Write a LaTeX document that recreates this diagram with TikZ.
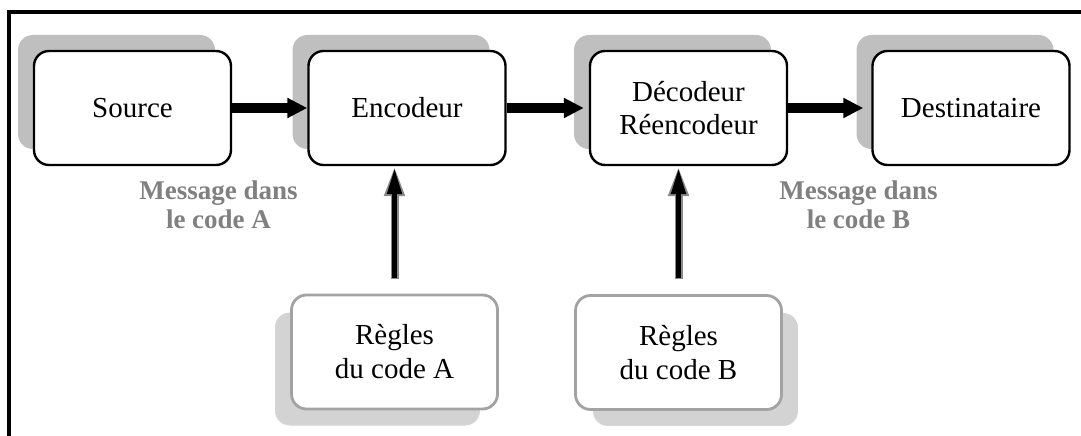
\documentclass[tikz,border=0pt]{standalone}
\usepackage{fontspec}
\setmainfont{Liberation Serif}
\usetikzlibrary{arrows.meta,shadows,calc}

\definecolor{shadowtop}{HTML}{BFBFBF}
\definecolor{shadowlow}{HTML}{D3D3D3}
\definecolor{ruleborder}{HTML}{A3A3A3}
\definecolor{labelgray}{HTML}{808080}
\definecolor{arrowedge}{HTML}{8A8A8A}

\tikzset{
  stagebox/.style={draw=black, line width=2.4pt, fill=white, rounded corners=15pt,
    minimum width=197pt, minimum height=114pt, inner sep=0pt, align=center,
    font=\fontsize{29}{33}\selectfont,
    general shadow={fill=shadowtop, draw=none, shadow xshift=-16pt, shadow yshift=16pt}},
  rulebox/.style={draw=ruleborder, line width=2.8pt, fill=white, rounded corners=15pt,
    minimum width=206pt, minimum height=114pt, inner sep=0pt, align=center,
    font=\fontsize{29}{34}\selectfont},
  shadowleft/.style={general shadow={fill=shadowlow, draw=white, line width=1pt,
    shadow xshift=-17pt, shadow yshift=-17pt}},
  shadowright/.style={general shadow={fill=shadowlow, draw=white, line width=1pt,
    shadow xshift=17pt, shadow yshift=-17pt}},
  flowarrow/.style={line width=9.5pt, -{Triangle[length=20pt, width=19pt]}},
  rulearrowouter/.style={draw=arrowedge, line width=8pt, -{Triangle[length=30pt, width=19pt]}},
  rulearrowinner/.style={draw=black, line width=5pt, -{Triangle[length=26pt, width=14pt]}},
  codelabel/.style={text=labelgray, align=center, font=\bfseries\fontsize{27}{29.5}\selectfont}
}

\begin{document}
\begin{tikzpicture}[x=1pt, y=-1pt]
  \useasboundingbox (0,0) rectangle (1081,436);
  \clip (0,0) rectangle (1081,436);

  % frame (continues past the right and bottom edges)
  \draw[line width=3.6pt] (9,450) -- (9,12) -- (1095,12);

  % main chain
  \node[stagebox] (src) at (132.5,108) {Source};
  \node[stagebox] (enc) at (407,108) {Encodeur};
  \node[stagebox] (dec) at (688.5,108) {Décodeur\\Réencodeur};
  \node[stagebox] (dst) at (971,108) {Destinataire};

  % code rules
  \node[rulebox, shadowleft] (ra) at (394.5,352) {Règles\\du code A};
  \node[rulebox, shadowright] (rb) at (678.5,352.5) {Règles\\du code B};

  % message labels
  \node[codelabel] (msga) at (218.5,205) {Message dans\\le code A};
  \node[codelabel] (msgb) at (858.5,205) {Message dans\\le code B};

  % flow arrows
  \draw[flowarrow] (src.east) -- (enc.west);
  \draw[flowarrow, shorten >=5pt] (enc.east) -- (dec.west);
  \draw[flowarrow, shorten >=8pt] (dec.east) -- (dst.west);

  % rules feeding the coders
  \draw[rulearrowouter, shorten <=15pt] (ra.north) -- (ra.north |- enc.south);
  \draw[rulearrowinner, shorten <=16pt, shorten >=2pt] (ra.north) -- (ra.north |- enc.south);
  \draw[rulearrowouter, shorten <=15pt] (rb.north) -- (rb.north |- dec.south);
  \draw[rulearrowinner, shorten <=16pt, shorten >=2pt] (rb.north) -- (rb.north |- dec.south);
\end{tikzpicture}
\end{document}
